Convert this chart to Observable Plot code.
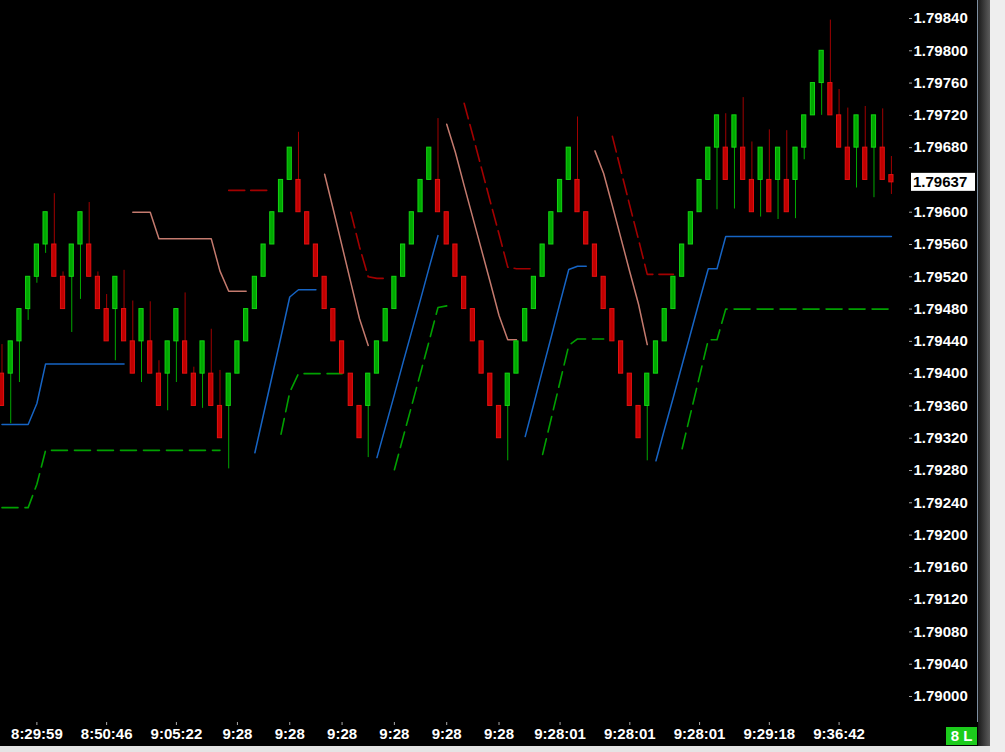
<!DOCTYPE html>
<html><head><meta charset="utf-8">
<script src="https://cdn.jsdelivr.net/npm/d3@7"></script>
<script src="https://cdn.jsdelivr.net/npm/@observablehq/plot@0.6"></script>
<style>
html,body{margin:0;padding:0;background:#000;overflow:hidden}
#wrap{position:relative;width:1005px;height:752px;background:#000}
#wrap svg{display:block;position:absolute;left:0;top:0}
.rborder{position:absolute;left:977px;top:0;width:1px;height:722px;background:#7d8ea0}
.rstrip{position:absolute;left:978px;top:0;width:12px;height:752px;background:linear-gradient(to right,#1a1a1a,#5c5c5c)}
.rwhite{position:absolute;left:990px;top:0;width:15px;height:752px;background:#eeeeee}
.bstrip{position:absolute;left:0;top:746px;width:990px;height:6px;background:#e4e4e4}
.badge{position:absolute;left:946px;top:727px;width:31px;height:18px;background:#1ccc1c;color:#fff;font:bold 15px "Liberation Sans",Arial,sans-serif;line-height:18px;text-align:center}
</style></head><body>
<div id="wrap"></div>
<script>
// ---- Candles (renko-style bars), one entry per bar, left to right ----
const opens = [
1.79400,1.79400,1.79440,1.79480,1.79520,1.79560,1.79560,1.79520,1.79520,1.79560,
1.79560,1.79520,1.79480,1.79480,1.79480,1.79440,1.79440,1.79440,1.79400,1.79400,
1.79440,1.79440,1.79400,1.79400,1.79400,1.79360,1.79360,1.79400,1.79440,1.79480,
1.79520,1.79560,1.79600,1.79640,1.79640,1.79600,1.79560,1.79520,1.79480,1.79440,
1.79400,1.79360,1.79360,1.79400,1.79440,1.79480,1.79520,1.79560,1.79600,1.79640,
1.79640,1.79600,1.79560,1.79520,1.79480,1.79440,1.79400,1.79360,1.79360,1.79400,
1.79440,1.79480,1.79520,1.79560,1.79600,1.79640,1.79640,1.79600,1.79560,1.79520,
1.79480,1.79440,1.79400,1.79360,1.79360,1.79400,1.79440,1.79480,1.79520,1.79560,
1.79600,1.79640,1.79680,1.79680,1.79680,1.79680,1.79640,1.79640,1.79640,1.79640,
1.79640,1.79640,1.79680,1.79720,1.79760,1.79760,1.79720,1.79680,1.79680,1.79680,
1.79680,1.79680,1.79646];
const closes = [
1.79360,1.79440,1.79480,1.79520,1.79560,1.79600,1.79520,1.79480,1.79560,1.79600,
1.79520,1.79480,1.79440,1.79520,1.79440,1.79400,1.79480,1.79400,1.79360,1.79440,
1.79480,1.79400,1.79360,1.79440,1.79360,1.79320,1.79400,1.79440,1.79480,1.79520,
1.79560,1.79600,1.79640,1.79680,1.79600,1.79560,1.79520,1.79480,1.79440,1.79400,
1.79360,1.79320,1.79400,1.79440,1.79480,1.79520,1.79560,1.79600,1.79640,1.79680,
1.79600,1.79560,1.79520,1.79480,1.79440,1.79400,1.79360,1.79320,1.79400,1.79440,
1.79480,1.79520,1.79560,1.79600,1.79640,1.79680,1.79600,1.79560,1.79520,1.79480,
1.79440,1.79400,1.79360,1.79320,1.79400,1.79440,1.79480,1.79520,1.79560,1.79600,
1.79640,1.79680,1.79720,1.79640,1.79720,1.79640,1.79600,1.79680,1.79600,1.79680,
1.79600,1.79680,1.79720,1.79760,1.79800,1.79720,1.79680,1.79640,1.79720,1.79640,
1.79720,1.79640,1.79637];
const highs = [
1.79436,1.79440,1.79480,1.79520,1.79560,1.79600,1.79623,1.79526,1.79560,1.79600,
1.79612,1.79526,1.79498,1.79520,1.79528,1.79490,1.79480,1.79489,1.79416,1.79440,
1.79480,1.79500,1.79408,1.79440,1.79455,1.79404,1.79400,1.79440,1.79480,1.79520,
1.79560,1.79600,1.79640,1.79680,1.79699,1.79600,1.79560,1.79520,1.79480,1.79440,
1.79400,1.79360,1.79400,1.79440,1.79480,1.79520,1.79560,1.79600,1.79640,1.79680,
1.79716,1.79600,1.79560,1.79520,1.79480,1.79440,1.79400,1.79360,1.79400,1.79440,
1.79480,1.79520,1.79560,1.79600,1.79640,1.79680,1.79718,1.79600,1.79560,1.79520,
1.79480,1.79440,1.79400,1.79360,1.79400,1.79440,1.79480,1.79520,1.79560,1.79600,
1.79640,1.79680,1.79720,1.79722,1.79720,1.79742,1.79687,1.79680,1.79702,1.79680,
1.79701,1.79680,1.79720,1.79760,1.79800,1.79838,1.79752,1.79729,1.79720,1.79731,
1.79720,1.79728,1.79669];
const lows = [
1.79360,1.79338,1.79389,1.79466,1.79512,1.79549,1.79520,1.79480,1.79451,1.79492,
1.79520,1.79480,1.79440,1.79416,1.79440,1.79400,1.79389,1.79400,1.79360,1.79354,
1.79389,1.79400,1.79360,1.79357,1.79360,1.79320,1.79282,1.79400,1.79440,1.79480,
1.79520,1.79560,1.79600,1.79640,1.79600,1.79560,1.79520,1.79480,1.79440,1.79400,
1.79360,1.79320,1.79296,1.79400,1.79440,1.79480,1.79520,1.79560,1.79600,1.79640,
1.79600,1.79560,1.79520,1.79480,1.79440,1.79400,1.79360,1.79320,1.79292,1.79400,
1.79440,1.79480,1.79520,1.79560,1.79600,1.79640,1.79600,1.79560,1.79520,1.79480,
1.79440,1.79400,1.79360,1.79320,1.79292,1.79400,1.79440,1.79480,1.79520,1.79560,
1.79600,1.79640,1.79603,1.79640,1.79604,1.79640,1.79600,1.79594,1.79600,1.79591,
1.79600,1.79592,1.79665,1.79720,1.79720,1.79720,1.79680,1.79640,1.79630,1.79640,
1.79618,1.79640,1.79622];

// ---- Indicator lines: [first bar index, values...] per segment ----
const supportLine = [
  [0,  [1.79337,1.79337,1.79337,1.79337,1.79363,1.79412,1.79412,1.79412,1.79412,1.79412,1.79412,1.79412,1.79412,1.79412,1.79412]],
  [29, [1.79302,1.79350,1.79398,1.79446,1.79495,1.79504,1.79504,1.79504]],
  [43, [1.79296,1.79335,1.79374,1.79414,1.79453,1.79492,1.79532,1.79571]],
  [60, [1.79322,1.79363,1.79405,1.79446,1.79488,1.79529,1.79533,1.79533]],
  [75, [1.79292,1.79332,1.79371,1.79411,1.79451,1.79491,1.79530,1.79530,1.79570,1.79570,
        1.79570,1.79570,1.79570,1.79570,1.79570,1.79570,1.79570,1.79570,1.79570,1.79570,
        1.79570,1.79570,1.79570,1.79570,1.79570,1.79570,1.79570,1.79570]]
];
const lowerBand = [
  [0,  [1.79234,1.79234,1.79234,1.79234,1.79263,1.79305,1.79305,1.79305,1.79305,1.79305,
        1.79305,1.79305,1.79305,1.79305,1.79305,1.79305,1.79305,1.79305,1.79305,1.79305,
        1.79305,1.79305,1.79305,1.79305,1.79305,1.79305]],
  [32, [1.79325,1.79377,1.79400,1.79400,1.79400,1.79400,1.79400,1.79400]],
  [45, [1.79281,1.79321,1.79361,1.79401,1.79441,1.79482,1.79484]],
  [62, [1.79300,1.79345,1.79390,1.79435,1.79443,1.79443,1.79443,1.79443]],
  [78, [1.79307,1.79352,1.79397,1.79442,1.79442,1.79480,1.79480,1.79480,1.79480,1.79480,
        1.79480,1.79480,1.79480,1.79480,1.79480,1.79480,1.79480,1.79480,1.79480,1.79480,
        1.79480,1.79480,1.79480,1.79480,1.79480]]
];
const resistLine = [
  [15, [1.79600,1.79600,1.79600,1.79567,1.79567,1.79567,1.79567,1.79567,1.79567,1.79567,1.79527,1.79502,1.79502,1.79502]],
  [37, [1.79647,1.79603,1.79558,1.79513,1.79468,1.79435]],
  [51, [1.79709,1.79674,1.79633,1.79593,1.79553,1.79513,1.79472,1.79442,1.79442]],
  [68, [1.79676,1.79648,1.79608,1.79567,1.79526,1.79486,1.79436]]
];
const upperBand = [
  [26, [1.79627,1.79627,1.79627,1.79627,1.79627,1.79627]],
  [40, [1.79600,1.79557,1.79520,1.79518,1.79518]],
  [53, [1.79735,1.79695,1.79654,1.79613,1.79573,1.79532,1.79530,1.79530,1.79530]],
  [70, [1.79694,1.79651,1.79608,1.79566,1.79523,1.79523,1.79523,1.79523]]
];

// ---- Axes ----
const xTickIdx = [4,12,20,27,33,39,45,51,57,64,72,80,88,96];
const xTickLabels = ["8:29:59","8:50:46","9:05:22","9:28","9:28","9:28","9:28","9:28","9:28","9:28:01","9:28:01","9:28:01","9:29:18","9:36:42"];
const yTicks = [1.79000,1.79040,1.79080,1.79120,1.79160,1.79200,1.79240,1.79280,1.79320,1.79360,1.79400,
                1.79440,1.79480,1.79520,1.79560,1.79600,1.79680,1.79720,1.79760,1.79800,1.79840];
const lastPrice = 1.79637;
const badgeText = "8 L";

// ---- build tables ----
const candles = opens.map((o, i) => ({i, o, c: closes[i], h: highs[i], l: lows[i]}));
const up = d => d.c >= d.o;
const toRows = segs => segs.flatMap(([s, vals], k) => vals.map((v, j) => ({i: s + j, v, seg: k})));

const FONT = '"Liberation Sans", Arial, sans-serif';
const halfW = 0.24;

const plot = Plot.plot({
  width: 1005,
  height: 752,
  marginLeft: 0,
  marginRight: 97,
  marginTop: 0,
  marginBottom: 30,
  style: {background: "#000", color: "#fff", fontFamily: FONT, fontSize: "15px", fontWeight: "bold"},
  x: {domain: [-0.172, 103.96]},
  y: {domain: [1.789678, 1.798623]},
  marks: [
    Plot.line(toRows(upperBand), {x: "i", y: "v", z: "seg", stroke: "#a30000", strokeWidth: 1.6, strokeDasharray: "16,6"}),
    Plot.line(toRows(lowerBand), {x: "i", y: "v", z: "seg", stroke: "#00a000", strokeWidth: 1.6, strokeDasharray: "16,7"}),
    Plot.line(toRows(resistLine), {x: "i", y: "v", z: "seg", stroke: "#c47a6e", strokeWidth: 1.5}),
    Plot.line(toRows(supportLine), {x: "i", y: "v", z: "seg", stroke: "#1664c4", strokeWidth: 1.5}),
    Plot.ruleX(candles, {filter: d => !up(d), x: "i", y1: "l", y2: "h", stroke: "#a00000", strokeWidth: 1}),
    Plot.ruleX(candles, {filter: up, x: "i", y1: "l", y2: "h", stroke: "#00a800", strokeWidth: 1}),
    Plot.rect(candles, {filter: d => !up(d), x1: d => d.i - halfW, x2: d => d.i + halfW, y1: "o", y2: "c", fill: "#c00000", stroke: "#e41010", strokeWidth: 1}),
    Plot.rect(candles, {filter: up, x1: d => d.i - halfW, x2: d => d.i + halfW, y1: "o", y2: "c", fill: "#00a800", stroke: "#12d412", strokeWidth: 1}),
    Plot.axisY({anchor: "right", ticks: yTicks, tickFormat: d3.format(".5f"), tickSize: 3, tickPadding: 2,
                line: true, stroke: "#a8a8a8", fill: "#ffffff", fontWeight: "bold", fontSize: 15, label: null}),
    Plot.axisX({anchor: "bottom", ticks: xTickIdx, tickFormat: d => xTickLabels[xTickIdx.indexOf(d)], tickSize: 3, tickPadding: 3,
                line: true, stroke: "#a8a8a8", fill: "#ffffff", fontWeight: "bold", fontSize: 15, label: null})
  ]
});

const wrap = document.getElementById("wrap");
wrap.appendChild(plot);

// current price tag on the right axis, placed through the y scale
const yPos = plot.scale("y").apply(lastPrice);
const svg = d3.select(plot);
svg.append("rect").attr("x", 911).attr("y", yPos - 9).attr("width", 64).attr("height", 18).attr("fill", "#fff");
svg.append("text").attr("x", 913).attr("y", yPos).attr("dy", "0.36em").attr("fill", "#000")
  .attr("text-anchor", "start")
  .style("font", "bold 15px " + FONT).text(d3.format(".5f")(lastPrice));

for (const cls of ["rborder", "rstrip", "rwhite", "bstrip"]) {
  const el = document.createElement("div"); el.className = cls; wrap.appendChild(el);
}
const badge = document.createElement("div");
badge.className = "badge"; badge.textContent = badgeText; wrap.appendChild(badge);
</script>
</body></html>
